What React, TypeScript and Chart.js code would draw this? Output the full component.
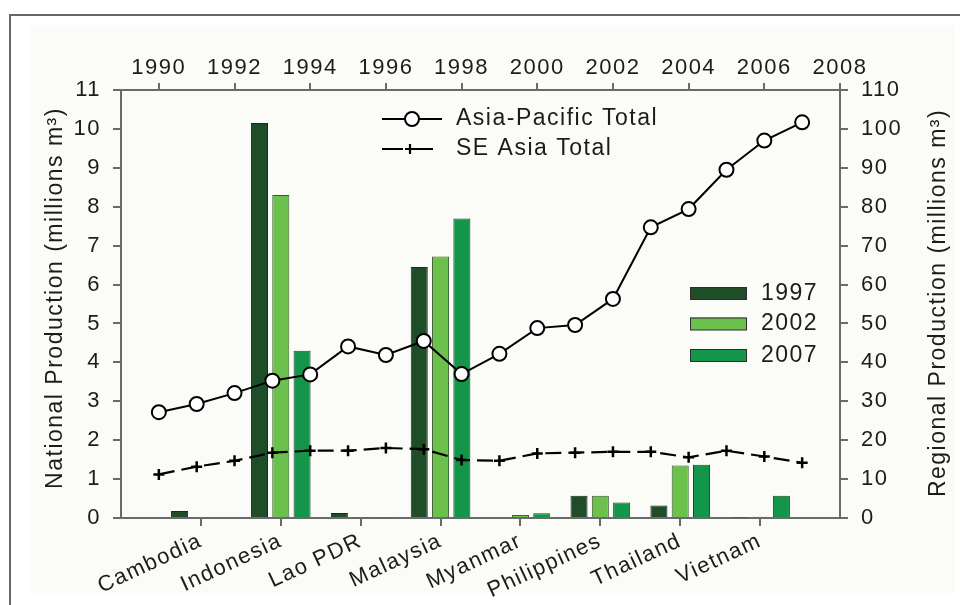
import React, { useEffect, useRef } from 'react';
import { Chart, registerables } from 'chart.js';

Chart.register(...registerables);

// ---------- data ----------
const countries = ['Cambodia', 'Indonesia', 'Lao PDR', 'Malaysia', 'Myanmar', 'Philippines', 'Thailand', 'Vietnam'];
const prod1997 = [0.18, 10.15, 0.13, 6.45, null, 0.57, 0.32, 0.01];
const prod2002 = [null, 8.3, 0.02, 6.72, 0.08, 0.57, 1.35, 0.03];
const prod2007 = [null, 4.3, 0.02, 7.7, 0.12, 0.4, 1.37, 0.57];

const years = [1990, 1991, 1992, 1993, 1994, 1995, 1996, 1997, 1998, 1999, 2000, 2001, 2002, 2003, 2004, 2005, 2006, 2007];
const asiaPacific = [27.2, 29.3, 32.1, 35.3, 36.9, 44.1, 41.9, 45.5, 37.0, 42.2, 48.8, 49.6, 56.3, 74.7, 79.4, 89.5, 97.0, 101.7];
const seAsia = [11.2, 13.2, 14.7, 16.8, 17.3, 17.3, 18.0, 17.7, 14.9, 14.7, 16.6, 16.8, 17.0, 17.0, 15.6, 17.3, 15.8, 14.2];

const topTicks = [1990, 1992, 1994, 1996, 1998, 2000, 2002, 2004, 2006, 2008];
const leftTicks = [0, 1, 2, 3, 4, 5, 6, 7, 8, 9, 10, 11];
const rightTicks = [0, 10, 20, 30, 40, 50, 60, 70, 80, 90, 100, 110];

const barLabels = ['1997', '2002', '2007'];
const lineLabels = ['Asia-Pacific Total', 'SE Asia Total'];
const leftTitle = 'National Production (millions m³)';
const rightTitle = 'Regional Production (millions m³)';

// ---------- styles ----------
const W = 960;
const H = 605;
const AREA = { left: 121, right: 840, top: 90, bottom: 518 };
const FONT = '"Liberation Sans", Arial, sans-serif';
const C1997 = '#1f4d27';
const C2002 = '#6cc04c';
const C2007 = '#14964a';
const AXIS = '#6a6a6a';
const TEXT = '#1c1c1c';
const SPACING = '1.5px';

const background = {
  id: 'background',
  beforeLayout(chart: any) {
    chart.ctx.letterSpacing = SPACING;
  },
  beforeDraw(chart: any) {
    const ctx = chart.ctx;
    ctx.save();
    ctx.fillStyle = '#ffffff';
    ctx.fillRect(0, 0, chart.width, chart.height);
    ctx.fillStyle = '#fbfbf8';
    ctx.fillRect(30, 25, 925, 568);
    ctx.strokeStyle = '#666666';
    ctx.lineWidth = 2;
    ctx.beginPath();
    ctx.moveTo(10, chart.height);
    ctx.lineTo(10, 15);
    ctx.lineTo(chart.width, 15);
    ctx.stroke();
    ctx.restore();
    ctx.letterSpacing = SPACING;
  },
};

const overlay = {
  id: 'overlay',
  beforeLayout(chart: any) {
    chart.ctx.letterSpacing = SPACING;
  },
  beforeDraw(chart: any) {
    chart.ctx.letterSpacing = SPACING;
  },
  afterDraw(chart: any) {
    const ctx = chart.ctx;
    ctx.save();
    ctx.letterSpacing = SPACING;
    ctx.font = `23px ${FONT}`;
    ctx.fillStyle = TEXT;
    ctx.textBaseline = 'middle';
    ctx.textAlign = 'left';

    // line legend
    ctx.strokeStyle = '#000';
    ctx.lineWidth = 2;
    ctx.beginPath();
    ctx.moveTo(382, 119);
    ctx.lineTo(442, 119);
    ctx.stroke();
    ctx.beginPath();
    ctx.arc(412, 119, 7, 0, Math.PI * 2);
    ctx.fillStyle = '#fff';
    ctx.fill();
    ctx.stroke();
    ctx.fillStyle = TEXT;
    ctx.fillText(lineLabels[0], 456, 119);

    ctx.lineWidth = 2.2;
    ctx.beginPath();
    ctx.moveTo(382, 149);
    ctx.lineTo(403, 149);
    ctx.moveTo(405, 149);
    ctx.lineTo(433, 149);
    ctx.moveTo(410, 144);
    ctx.lineTo(410, 154);
    ctx.stroke();
    ctx.fillText(lineLabels[1], 456, 149);

    // bar legend
    const sw = [C1997, C2002, C2007];
    const ys = [287, 317.5, 349];
    for (let i = 0; i < 3; i++) {
      ctx.fillStyle = sw[i];
      ctx.fillRect(690, ys[i], 57, 12.5);
      ctx.strokeStyle = '#2d2d2d';
      ctx.lineWidth = 1;
      ctx.strokeRect(690.5, ys[i] + 0.5, 56, 12);
      ctx.fillStyle = TEXT;
      ctx.fillText(barLabels[i], 761, ys[i] + 6.5);
    }

    // axis titles
    ctx.textAlign = 'center';
    ctx.textBaseline = 'alphabetic';
    ctx.save();
    ctx.translate(62, 298);
    ctx.rotate(-Math.PI / 2);
    ctx.fillText(leftTitle, 0, 0);
    ctx.restore();
    ctx.save();
    ctx.translate(945, 303);
    ctx.rotate(-Math.PI / 2);
    ctx.fillText(rightTitle, 0, 0);
    ctx.restore();

    ctx.restore();
  },
};

const tickFont = { family: FONT, size: 22 };
const axisGrid = (len: number) => ({ offset: false, drawOnChartArea: false, drawTicks: true, tickLength: len, color: AXIS, lineWidth: 2 });
const axisBorder = { display: true, color: AXIS, width: 2 };

export default function App() {
  const barRef = useRef<HTMLCanvasElement | null>(null);
  const lineRef = useRef<HTMLCanvasElement | null>(null);

  useEffect(() => {
    document.body.style.margin = '0';
    const c1 = barRef.current;
    const c2 = lineRef.current;
    if (!c1 || !c2) return;

    const barSet = (label: string, values: (number | null)[], color: string, border: string) => ({
      label,
      data: values.map((v, i) => ({ x: i + 1, y: v })),
      backgroundColor: color,
      borderColor: border,
      borderWidth: 1,
      categoryPercentage: 0.8,
      barPercentage: 0.8,
    });

    const barChart = new Chart(c1, {
      type: 'bar',
      data: {
        datasets: [
          barSet(barLabels[0], prod1997, C1997, '#1a2a1c'),
          barSet(barLabels[1], prod2002, C2002, '#3a5a30'),
          barSet(barLabels[2], prod2007, C2007, '#1e4a2a'),
        ] as any,
      },
      options: {
        responsive: false,
        animation: false,
        events: [],
        layout: { padding: { top: AREA.top, right: W - AREA.right, left: 0, bottom: 0 } },
        plugins: { legend: { display: false }, tooltip: { enabled: false }, title: { display: false } },
        scales: {
          x: {
            type: 'linear',
            position: 'bottom',
            min: 0,
            max: countries.length + 1,
            offset: false,
            grid: axisGrid(8),
            border: axisBorder,
            ticks: {
              font: tickFont,
              color: TEXT,
              minRotation: 25,
              maxRotation: 25,
              autoSkip: false,
              padding: 2,
              callback: (v: any) => countries[Math.round(v) - 1] ?? '',
            },
            afterBuildTicks: (s: any) => { s.ticks = countries.map((_, i) => ({ value: i + 1 })); },
            afterFit: (s: any) => { s.height = H - AREA.bottom; },
          },
          y: {
            type: 'linear',
            position: 'left',
            min: 0,
            max: 11,
            grid: axisGrid(8),
            border: axisBorder,
            ticks: { font: tickFont, color: TEXT, padding: 12 },
            afterBuildTicks: (s: any) => { s.ticks = leftTicks.map((v) => ({ value: v })); },
            afterFit: (s: any) => { s.width = AREA.left; },
          },
        },
      } as any,
      plugins: [background],
    });

    const lineChart = new Chart(c2, {
      type: 'line',
      data: {
        datasets: [
          {
            label: lineLabels[0],
            data: years.map((y, i) => ({ x: y, y: asiaPacific[i] })),
            xAxisID: 'xTop',
            yAxisID: 'y2',
            borderColor: '#000',
            borderWidth: 2,
            pointRadius: 7,
            pointBorderWidth: 2,
            pointBackgroundColor: '#fff',
            pointBorderColor: '#000',
            tension: 0,
            order: 0,
          },
          {
            label: lineLabels[1],
            data: years.map((y, i) => ({ x: y, y: seAsia[i] })),
            xAxisID: 'xTop',
            yAxisID: 'y2',
            borderColor: '#000',
            borderWidth: 2.2,
            borderDash: [16, 7],
            pointStyle: 'cross',
            pointRadius: 5.5,
            pointBorderWidth: 2.5,
            pointBorderColor: '#000',
            tension: 0,
            order: 1,
          },
        ] as any,
      },
      options: {
        responsive: false,
        animation: false,
        events: [],
        layout: { padding: { left: AREA.left, bottom: H - AREA.bottom, top: 0, right: 0 } },
        plugins: { legend: { display: false }, tooltip: { enabled: false }, title: { display: false } },
        scales: {
          xTop: {
            type: 'linear',
            axis: 'x',
            position: 'top',
            min: 1989,
            max: 2008,
            offset: false,
            grid: axisGrid(7),
            border: axisBorder,
            ticks: { font: tickFont, color: TEXT, padding: 2, maxRotation: 0, autoSkip: false, callback: (v: any) => String(v) },
            afterBuildTicks: (s: any) => { s.ticks = topTicks.map((v) => ({ value: v })); },
            afterFit: (s: any) => { s.height = AREA.top; },
          },
          y2: {
            type: 'linear',
            axis: 'y',
            position: 'right',
            min: 0,
            max: 110,
            grid: axisGrid(8),
            border: axisBorder,
            ticks: { font: tickFont, color: TEXT, padding: 13 },
            afterBuildTicks: (s: any) => { s.ticks = rightTicks.map((v) => ({ value: v })); },
            afterFit: (s: any) => { s.width = W - AREA.right; },
          },
        },
      } as any,
      plugins: [overlay],
    });

    return () => {
      lineChart.destroy();
      barChart.destroy();
    };
  }, []);

  const canvasStyle: React.CSSProperties = { position: 'absolute', left: 0, top: 0, display: 'block', width: W, height: H };
  return (
    <div style={{ position: 'absolute', left: 0, top: 0, width: W, height: H }}>
      <canvas ref={barRef} width={W} height={H} style={canvasStyle} />
      <canvas ref={lineRef} width={W} height={H} style={{ ...canvasStyle, pointerEvents: 'none' }} />
    </div>
  );
}
